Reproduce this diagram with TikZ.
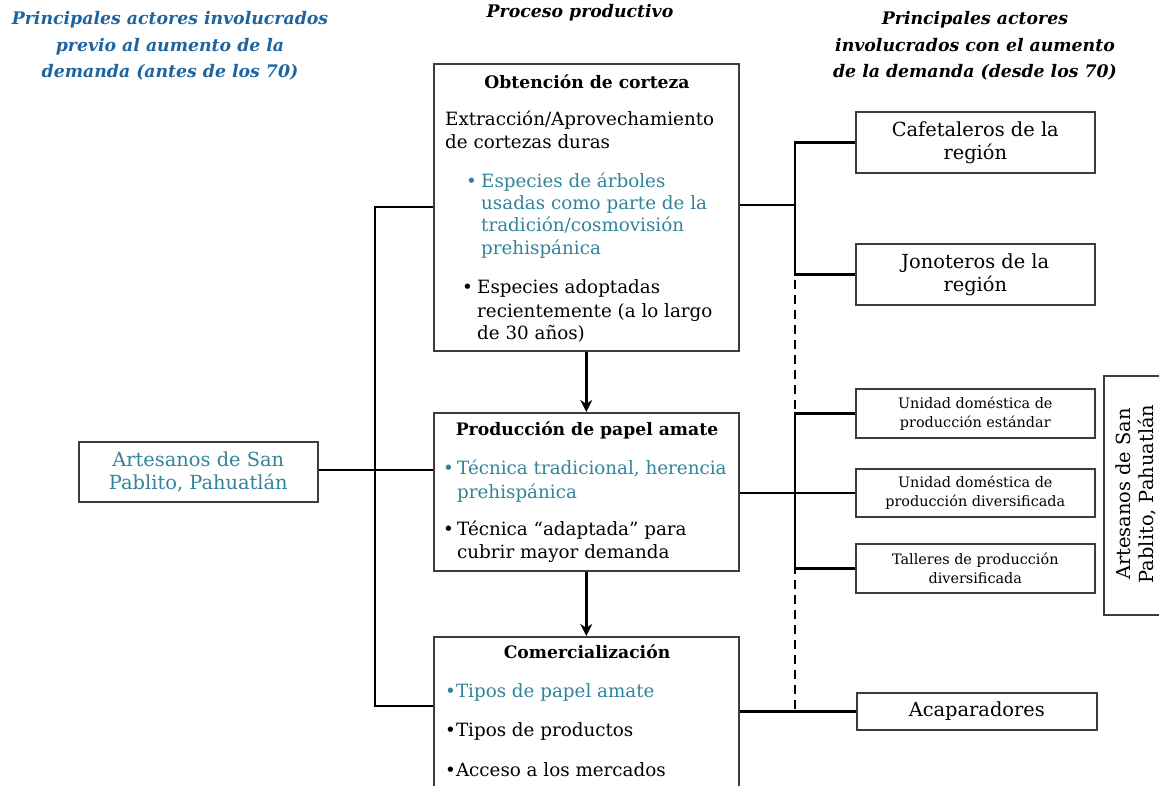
\documentclass[tikz,border=0pt]{standalone}
\usepackage{fontspec}
\setmainfont{DejaVu Serif}
\usetikzlibrary{arrows.meta}
\definecolor{titleblue}{RGB}{30,100,160}
\definecolor{tealblue}{RGB}{49,132,155}
\definecolor{boxgray}{RGB}{60,60,60}
\tikzset{
  box/.style={draw=boxgray, line width=1.6pt, fill=white, inner sep=0pt, anchor=north west},
  conn/.style={line width=2.6pt, black},
  dashconn/.style={line width=2.6pt, black, dash pattern=on 9pt off 6pt},
  flowarrow/.style={line width=3.4pt, -{Stealth[length=12pt,width=12pt]}},
  txt/.style={inner sep=0pt, anchor=base west, font=\fontsize{18.3}{21}\selectfont},
  btxt/.style={txt, text=tealblue},
  head/.style={inner sep=0pt, font=\fontsize{17.2}{20}\selectfont\bfseries},
  ttl/.style={inner sep=0pt, align=center, font=\fontsize{17.3}{26.5}\selectfont\bfseries\itshape},
  actor/.style={inner sep=0pt, align=center, font=\fontsize{19.4}{23}\selectfont},
  small/.style={inner sep=0pt, align=center, font=\fontsize{14.4}{19}\selectfont},
}
\begin{document}
\begin{tikzpicture}[x=1pt,y=-1pt]
\useasboundingbox (0,0) rectangle (1159,786);
% titles
\node[ttl, text=titleblue] (t1) at (170,46) {Principales actores involucrados\\previo al aumento de la\\demanda (antes de los 70)};
\node[ttl] (t2) at (580,13) {Proceso productivo};
\node[ttl] (t3) at (975,46) {Principales actores\\involucrados con el aumento\\de la demanda (desde los 70)};
% process boxes
\node[box, minimum width=305pt, minimum height=287pt] (obt) at (433,63) {};
\node[box, minimum width=305pt, minimum height=158pt] (prod) at (433,412) {};
\node[box, minimum width=305pt, minimum height=170pt] (com) at (433,636) {};
% left actor
\node[box, minimum width=239pt, minimum height=60pt] (art) at (78,441) {};
\node[actor, text=tealblue] (artt) at (art.center) {Artesanos de San\\Pablito, Pahuatlán};
% right actors
\node[box, minimum width=239pt, minimum height=61pt] (caf) at (855,111) {};
\node[actor] (caft) at (caf.center) {Cafetaleros de la\\región};
\node[box, minimum width=239pt, minimum height=61pt] (jon) at (855,243) {};
\node[actor] (jont) at (jon.center) {Jonoteros de la\\región};
\node[box, minimum width=239pt, minimum height=49pt] (ude) at (855,388) {};
\node[small] (udet) at (ude.center) {Unidad doméstica de\\producción estándar};
\node[box, minimum width=239pt, minimum height=48pt] (udd) at (855,468) {};
\node[small] (uddt) at (udd.center) {Unidad doméstica de\\producción diversificada};
\node[box, minimum width=239pt, minimum height=49pt] (tal) at (855,543) {};
\node[small] (talt) at (tal.center) {Talleres de producción\\diversificada};
\node[box, minimum width=240pt, minimum height=37pt] (aca) at (856,692) {};
\node[actor] (acat) at (aca.center) {Acaparadores};
\node[box, minimum width=70pt, minimum height=239pt] (artr) at (1103,375) {};
\node[actor, rotate=90] (artrt) at (1136,494) {Artesanos de San\\Pablito, Pahuatlán};
% Obtencion contents
\node[head] (h1) at (587,82) {Obtención de corteza};
\node[txt] at (445,126) {Extracción/Aprovechamiento};
\node[txt] at (445,149) {de cortezas duras};
\node[btxt] at (466,188) {•};
\node[btxt] at (481,188) {Especies de árboles};
\node[btxt] at (481,210) {usadas como parte de la};
\node[btxt] at (481,232) {tradición/cosmovisión};
\node[btxt] at (481,255) {prehispánica};
\node[txt] at (462,294) {•};
\node[txt] at (477,294) {Especies adoptadas};
\node[txt] at (477,317) {recientemente (a lo largo};
\node[txt] at (477,339) {de 30 años)};
% Produccion contents
\node[head] (h2) at (587,430) {Producción de papel amate};
\node[btxt] at (443,474) {•};
\node[btxt] at (457,474) {Técnica tradicional, herencia};
\node[btxt] at (457,498) {prehispánica};
\node[txt] at (443,535) {•};
\node[txt] at (457,535) {Técnica “adaptada” para};
\node[txt] at (457,558) {cubrir mayor demanda};
% Comercializacion contents
\node[head] (h3) at (587,652) {Comercialización};
\node[btxt] at (445,697) {•Tipos de papel amate};
\node[txt] at (445,736) {•Tipos de productos};
\node[txt] at (445,776) {•Acceso a los mercados};
% arrows
\draw[flowarrow] (obt.south) -- (prod.north);
\draw[flowarrow] (prod.south) -- (com.north);
% left connectors
\coordinate (lj) at (375,470);
\draw[conn] (art.east |- lj) -- (lj);
\draw[conn] (obt.west |- 0,207) -| (375,706) -- (com.west |- 0,706);
\draw[conn] (lj) -- (prod.west |- lj);
% right connectors
\coordinate (rx) at (795,0);
\draw[dashconn] (rx |- 0,280) -- (rx |- aca.west);
\draw[conn] (obt.east |- 0,205) -- (rx |- 0,205);
\draw[conn] (caf.west) -| (rx |- jon.west) -- (jon.west);
\draw[conn] (ude.west) -| (rx |- tal.west) -- (tal.west);
\draw[conn] (prod.east |- udd.west) -- (udd.west);
\draw[conn] (com.east |- aca.west) -- (aca.west);
\end{tikzpicture}
\end{document}
